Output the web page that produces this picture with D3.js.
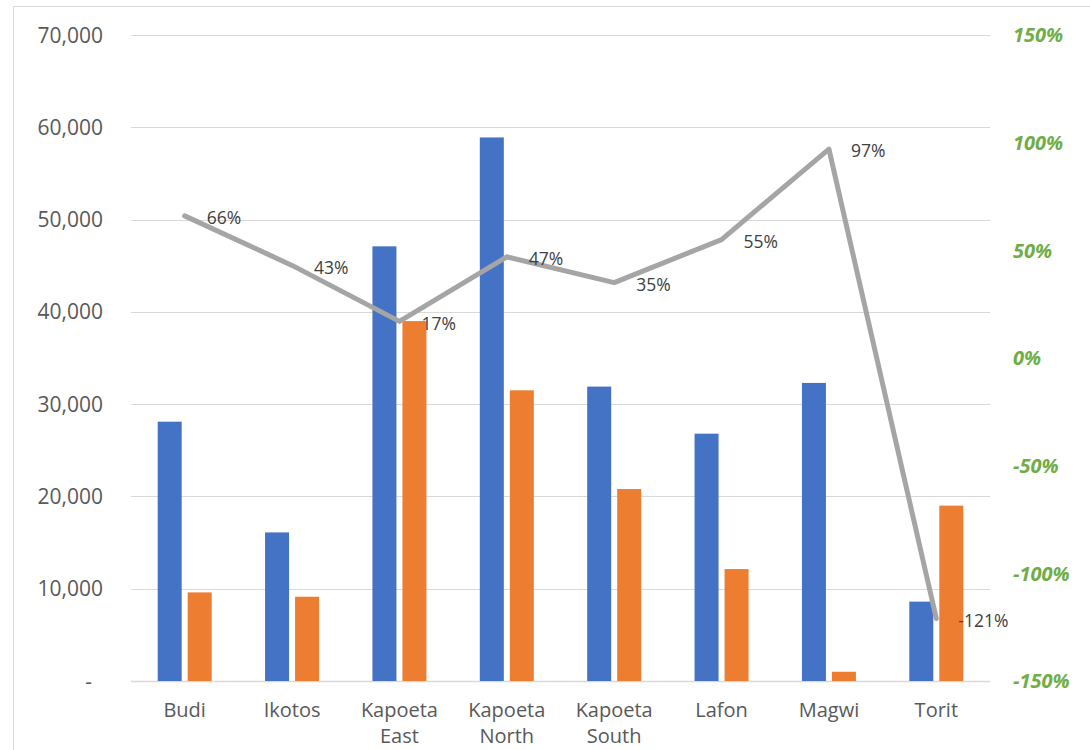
<!DOCTYPE html>
<html>
<head>
<meta charset="utf-8">
<script src="https://cdn.jsdelivr.net/npm/d3@7"></script>
<style>
  html, body { margin: 0; padding: 0; background: #fff; }
  svg { display: block; font-family: "Open Sans", "Liberation Sans", sans-serif; }
</style>
</head>
<body>
<svg id="chart" width="1090" height="750"></svg>
<script>
// ---- data ----
const categories = ["Budi", "Ikotos", "Kapoeta East", "Kapoeta North", "Kapoeta South", "Lafon", "Magwi", "Torit"];
const seriesA = [28100, 16100, 47100, 58900, 31900, 26800, 32300, 8600];   // blue
const seriesB = [9600, 9130, 39000, 31500, 20800, 12130, 1000, 19000];     // orange
const pctValues = [0.66, 0.43, 0.17, 0.47, 0.35, 0.55, 0.97, -1.21];       // grey line
const leftTicks = [0, 10000, 20000, 30000, 40000, 50000, 60000, 70000];
const rightTicks = [-1.5, -1.0, -0.5, 0, 0.5, 1.0, 1.5];

// ---- layout ----
const svg = d3.select("#chart");
const plot = { left: 131, right: 990, top: 35, bottom: 681 };

svg.append("rect")
  .attr("x", 13.5).attr("y", 6.5)
  .attr("width", 1100).attr("height", 800)
  .attr("fill", "#fff").attr("stroke", "#D9D9D9").attr("stroke-width", 1);

const x = d3.scaleBand().domain(categories).range([plot.left, plot.right]).padding(0);
const xSub = d3.scaleBand().domain(["A", "B"]).range([-27, 27]).paddingInner(0.2);
const yL = d3.scaleLinear().domain([0, 70000]).range([plot.bottom, plot.top]);
const yR = d3.scaleLinear().domain([-1.5, 1.5]).range([plot.bottom, plot.top]);

// gridlines
svg.append("g").selectAll("line").data(leftTicks).join("line")
  .attr("x1", plot.left).attr("x2", plot.right)
  .attr("y1", d => Math.round(yL(d)) + 0.5).attr("y2", d => Math.round(yL(d)) + 0.5)
  .attr("stroke", "#D9D9D9").attr("stroke-width", d => d === 0 ? 1.5 : 1);

// left axis labels
const fmt = d3.format(",");
svg.append("g").selectAll("text").data(leftTicks).join("text")
  .attr("x", d => d === 0 ? 92 : 103)
  .attr("y", d => yL(d))
  .attr("dy", "0.36em")
  .attr("text-anchor", "end")
  .attr("font-size", 21)
  .attr("fill", "#595959")
  .text(d => d === 0 ? "-" : fmt(d));

// right axis labels
svg.append("g").selectAll("text").data(rightTicks).join("text")
  .attr("x", 1013)
  .attr("y", d => yR(d))
  .attr("dy", "0.36em")
  .attr("text-anchor", "start")
  .attr("font-size", 20)
  .attr("font-weight", "bold")
  .attr("font-style", "italic")
  .attr("fill", "#70AD47")
  .text(d => Math.round(d * 100) + "%");

// bars
const barsG = svg.append("g");
const cx = c => x(c) + x.bandwidth() / 2;
barsG.selectAll("rect.a").data(categories).join("rect")
  .attr("class", "a")
  .attr("x", (c) => cx(c) + xSub("A"))
  .attr("width", xSub.bandwidth())
  .attr("y", (c, i) => yL(seriesA[i]))
  .attr("height", (c, i) => yL(0) - yL(seriesA[i]))
  .attr("fill", "#4472C4");
barsG.selectAll("rect.b").data(categories).join("rect")
  .attr("class", "b")
  .attr("x", (c) => cx(c) + xSub("B"))
  .attr("width", xSub.bandwidth())
  .attr("y", (c, i) => yL(seriesB[i]))
  .attr("height", (c, i) => yL(0) - yL(seriesB[i]))
  .attr("fill", "#ED7D31");

// x labels
const xl = svg.append("g").selectAll("text").data(categories).join("text")
  .attr("text-anchor", "middle")
  .attr("font-size", 20)
  .attr("fill", "#595959");
xl.each(function(c) {
  const words = c.split(" ");
  const t = d3.select(this);
  words.forEach((w, j) => {
    t.append("tspan").attr("x", cx(c)).attr("y", 710 + j * 26).attr("dy", "0.36em").text(w);
  });
});

// line
const line = d3.line()
  .x((d, i) => cx(categories[i]))
  .y(d => yR(d));
svg.append("path")
  .datum(pctValues)
  .attr("d", line)
  .attr("fill", "none")
  .attr("stroke", "#A5A5A5")
  .attr("stroke-width", 5)
  .attr("stroke-linejoin", "round")
  .attr("stroke-linecap", "round");

// data labels
svg.append("g").selectAll("text").data(pctValues).join("text")
  .attr("x", (d, i) => cx(categories[i]) + 22)
  .attr("y", d => yR(d) + 2)
  .attr("dy", "0.36em")
  .attr("font-size", 17.5)
  .attr("fill", "#404040")
  .text(d => Math.round(d * 100) + "%");
</script>
</body>
</html>
